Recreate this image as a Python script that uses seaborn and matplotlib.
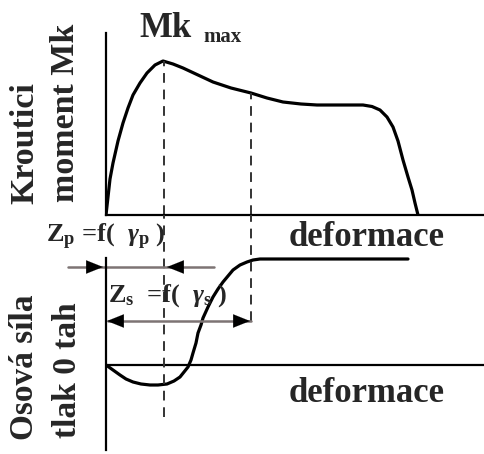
import numpy as np
import pandas as pd
import matplotlib
matplotlib.use("Agg")
import matplotlib.pyplot as plt
import seaborn as sns

# ---- data (deformation units, arbitrary force units) ----
mk_x = [0, 2, 4, 7, 12, 17, 22, 27, 34, 41, 49, 57, 67, 77, 92, 107, 125, 145,
        161, 177, 195, 211, 235, 257, 266, 274, 281, 287, 292, 297, 302, 306, 309, 312]
mk_y = [0, 18, 36, 52, 74, 92, 107, 120, 132, 142, 150, 154, 151, 147, 140, 133, 127, 122,
        117, 113, 111, 110, 110, 110, 108.5, 105, 98, 88, 74, 55, 38, 25, 12, 0]

f_x = [0, 7, 14, 20, 27, 35, 44, 52, 61, 68, 74, 78, 82, 85, 87, 90, 92, 95, 97,
       102, 107, 112, 117, 122, 127, 134, 141, 147, 154, 302]
f_y = [0, -5, -10, -14, -17, -19, -20, -20, -19, -16, -12, -7, -2, 5, 12, 22, 32, 40, 47,
       58, 68, 76, 83, 89, 95, 100, 103, 105, 106, 106]

gamma_p = 58     # deformation at Mk_max
gamma_s = 145    # deformation at end of zone s
mk_at_gs = 122
zp_level = 98
zs_level = 44

W, H = 484, 454
sns.set_theme(style="white")
plt.rcParams["font.family"] = ["Liberation Serif", "DejaVu Serif"]
plt.rcParams["font.weight"] = "bold"
plt.rcParams["mathtext.fontset"] = "custom"
plt.rcParams["mathtext.rm"] = "Liberation Serif:bold"
plt.rcParams["mathtext.bf"] = "Liberation Serif:bold"
plt.rcParams["mathtext.it"] = "Liberation Serif:italic:bold"

fig = plt.figure(figsize=(W / 100, H / 100), dpi=100)
fig.patch.set_facecolor("white")


def fx(px):
    return px / W


def fy(py):
    return 1 - py / H


ax1 = fig.add_axes([fx(106), fy(215), fx(484) - fx(106), fy(33) - fy(215)])
ax2 = fig.add_axes([fx(106), fy(450), fx(484) - fx(106), fy(215) - fy(450)])
for ax in (ax1, ax2):
    ax.set_xlim(0, 378)
    ax.set_xticks([])
    ax.set_yticks([])
    ax.patch.set_alpha(0)
    for s in ("top", "right"):
        ax.spines[s].set_visible(False)
    ax.spines["left"].set_color("black")
    ax.spines["left"].set_linewidth(1.6)
ax1.set_ylim(0, 182)
ax1.spines["bottom"].set_color("black")
ax1.spines["bottom"].set_linewidth(1.6)
ax2.set_ylim(-85, 150)
ax2.spines["bottom"].set_visible(False)
ax2.spines["left"].set_bounds(-85, 107)
ax2.axhline(0, color="black", lw=1.6)

dash = (0, (5, 3.5))
df1 = pd.DataFrame({"x": mk_x, "y": mk_y})
df2 = pd.DataFrame({"x": f_x, "y": f_y})
sns.lineplot(data=df1, x="x", y="y", ax=ax1, sort=False, estimator=None,
             color="black", lw=2.3)
sns.lineplot(data=df2, x="x", y="y", ax=ax2, sort=False, estimator=None,
             color="black", lw=2.3)
ax1.set_xlabel(""); ax1.set_ylabel("")
ax2.set_xlabel(""); ax2.set_ylabel("")

# dashed guide lines
dcol = "#333333"
ax1.plot([gamma_p, gamma_p], [0, max(mk_y)], color=dcol, lw=1.4, ls=dash)
ax1.plot([gamma_s, gamma_s], [0, mk_at_gs], color=dcol, lw=1.4, ls=dash)
ax2.plot([gamma_p, gamma_p], [-52, 150], color=dcol, lw=1.4, ls=dash)
ax2.plot([gamma_s, gamma_s], [zs_level, 150], color=dcol, lw=1.4, ls=dash)

# dimension lines
gray = "#7d7474"
ax2.plot([-38, gamma_p + 50], [zp_level, zp_level], color=gray, lw=1.8, clip_on=False)
ax2.plot([2, gamma_s], [zs_level, zs_level], color=gray, lw=1.8, clip_on=False)
hp = dict(arrowstyle="-|>,head_length=1.0,head_width=0.4", color="black", lw=0.1,
          shrinkA=0, shrinkB=0)
ax2.annotate("", xy=(-3, zp_level), xytext=(-16, zp_level), arrowprops=hp, annotation_clip=False)
ax2.annotate("", xy=(gamma_p + 3, zp_level), xytext=(gamma_p + 16, zp_level), arrowprops=hp)
ax2.annotate("", xy=(1, zs_level), xytext=(14, zs_level), arrowprops=hp)
ax2.annotate("", xy=(gamma_s - 1, zs_level), xytext=(gamma_s - 14, zs_level), arrowprops=hp)

# texts
fig.text(fx(139), fy(37), "Mk", fontsize=25, fontweight="bold", va="baseline", ha="left")
fig.text(fx(203), fy(42), "max", fontsize=15, fontweight="bold", va="baseline", ha="left")
fig.text(fx(25), fy(143), "Kroutici", fontsize=24.5, rotation=90, ha="center", va="center")
fig.text(fx(66), fy(113), "moment Mk", fontsize=24.5, rotation=90, ha="center", va="center")
fig.text(fx(25), fy(367), "Osová síla", fontsize=24, rotation=90, ha="center", va="center")
fig.text(fx(67), fy(370), "tlak 0 tah", fontsize=24, rotation=90, ha="center", va="center")
fig.text(fx(367), fy(238), "deformace", fontsize=25, ha="center", va="center")
fig.text(fx(367), fy(394), "deformace", fontsize=25, ha="center", va="center")
fig.text(fx(46), fy(242), r"Z$_{\mathbf{p}}$ =f(  $\gamma_{\mathbf{p}}$ )", fontsize=19,
         ha="left", va="baseline")
fig.text(fx(108), fy(302), r"Z$_{\mathbf{s}}$  =f(  $\gamma_{\mathbf{s}}$ )", fontsize=19,
         ha="left", va="baseline")

fig.savefig("out.png", dpi=100, facecolor="white")
